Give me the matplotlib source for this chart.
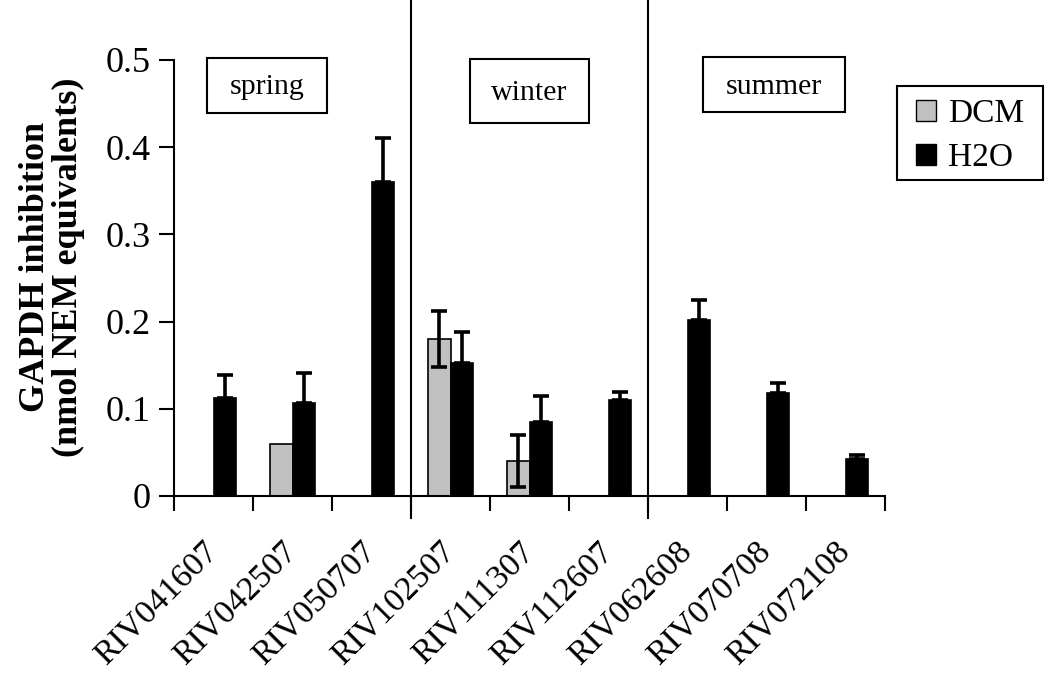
import matplotlib
matplotlib.use("Agg")
import matplotlib.pyplot as plt
import matplotlib.transforms as mtransforms
from matplotlib.patches import Patch, Rectangle
import numpy as np

plt.rcParams['font.family'] = ['Liberation Serif', 'DejaVu Serif']

samples = ["RIV041607", "RIV042507", "RIV050707", "RIV102507", "RIV111307",
           "RIV112607", "RIV062608", "RIV070708", "RIV072108"]
dcm = [0, 0.06, 0, 0.18, 0.04, 0, 0, 0, 0]
dcm_err = [0, 0, 0, 0.032, 0.03, 0, 0, 0, 0]
h2o = [0.112, 0.107, 0.36, 0.153, 0.085, 0.110, 0.202, 0.118, 0.042]
h2o_err = [0.027, 0.034, 0.05, 0.035, 0.030, 0.009, 0.023, 0.012, 0.005]
seasons = ["spring", "winter", "summer"]
yticks = [0, 0.1, 0.2, 0.3, 0.4, 0.5]
ytick_labels = ["0", "0.1", "0.2", "0.3", "0.4", "0.5"]

fig = plt.figure(figsize=(10.5, 6.99), dpi=100)
ax = fig.add_axes([174/1050, 1 - 496/699, (885 - 174)/1050, (496 - 60)/699])

x = np.arange(len(samples))
w = 0.29
dcm_arr = np.array(dcm)
dcm_mask = dcm_arr > 0
ax.bar(x[dcm_mask] - w, dcm_arr[dcm_mask], width=w, align='edge',
       color='#c0c0c0', edgecolor='black', linewidth=1.2, zorder=2)
ax.bar(x, h2o, width=w, align='edge', color='black', edgecolor='black',
       linewidth=1.2, zorder=2)

# error bars
ax.errorbar(x + w/2, h2o, yerr=[np.zeros(len(h2o)), h2o_err], fmt='none',
            ecolor='black', elinewidth=2.6, capsize=5.5, capthick=2.6, zorder=3)
de = np.array(dcm_err)
m = de > 0
ax.errorbar(x[m] - w/2, dcm_arr[m], yerr=de[m], fmt='none',
            ecolor='black', elinewidth=2.6, capsize=5.5, capthick=2.6, zorder=3)

ax.set_xlim(-0.5, len(samples) - 0.5)
ax.set_ylim(0, 0.5)
ax.set_yticks(yticks)
ax.set_yticklabels(ytick_labels, fontsize=26)
ax.set_xticks(np.arange(-0.5, len(samples) + 0.5, 1))
ax.set_xticklabels([])
ax.set_xticks(x, minor=True)
ax.set_xticklabels(samples, minor=True, rotation=45, ha='right',
                   rotation_mode='anchor', fontsize=24.5)
ax.tick_params(axis='x', which='minor', length=0, pad=29)
ax.tick_params(axis='x', which='major', length=11, width=1.5, direction='out')
ax.tick_params(axis='y', length=11, width=1.5, direction='out', pad=6)
offset = mtransforms.ScaledTranslation(-11/100, 0, fig.dpi_scale_trans)
for lab in ax.get_xticklabels(minor=True):
    lab.set_transform(lab.get_transform() + offset)
for s in ['top', 'right']:
    ax.spines[s].set_visible(False)
for s in ['left', 'bottom']:
    ax.spines[s].set_linewidth(1.5)

ax.set_ylabel("GAPDH inhibition\n(nmol NEM equivalents)", fontsize=26,
              fontweight='bold', linespacing=1.0)
ax.yaxis.set_label_coords(-0.125, 0.525)

# season dividers
for xb in [2.5, 5.5]:
    ax.plot([xb, xb], [-0.025, 0.569], color='black', lw=1.5, clip_on=False,
            zorder=4)

# season label boxes (x0, x1, y0, y1 in data units)
boxes = [(-0.082, 1.437, 0.439, 0.502), (3.247, 4.753, 0.428, 0.501),
         (6.196, 7.994, 0.440, 0.503)]
for name, (x0, x1, y0, y1) in zip(seasons, boxes):
    ax.add_patch(Rectangle((x0, y0), x1 - x0, y1 - y0, facecolor='white',
                           edgecolor='black', lw=1.5, clip_on=False, zorder=5))
    ax.text((x0 + x1)/2, (y0 + y1)/2 - 0.002, name, ha='center', va='center',
            fontsize=21.5, zorder=6, clip_on=False)

# legend with a manually drawn frame
lx0, lx1, ly0, ly1 = 897/1050, 1043/1050, 1 - 180/699, 1 - 86/699
fig.patches.append(Rectangle((lx0, ly0), lx1 - lx0, ly1 - ly0,
                             transform=fig.transFigure, facecolor='white',
                             edgecolor='black', lw=1.5, zorder=5))
handles = [Patch(facecolor='#c0c0c0', edgecolor='black', label='DCM'),
           Patch(facecolor='black', edgecolor='black', label='H2O')]
leg = fig.legend(handles=handles, loc='center',
                 bbox_to_anchor=((lx0 + lx1)/2, (ly0 + ly1)/2 - 0.004),
                 fontsize=24, frameon=False,
                 handlelength=0.6, handleheight=0.6, handletextpad=0.35,
                 borderpad=0.2, labelspacing=0.4, borderaxespad=0)
leg.set_zorder(6)

fig.savefig("out.png", dpi=100)
